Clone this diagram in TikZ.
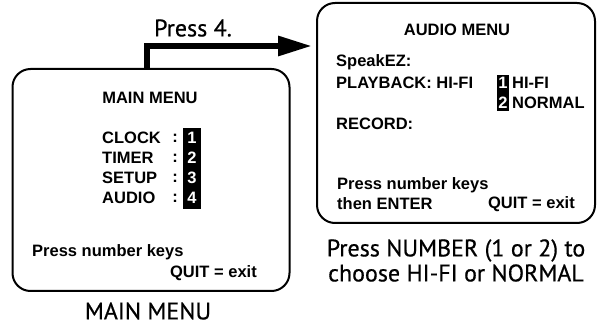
\documentclass[tikz,border=0pt]{standalone}
\usepackage{fontspec}
\setmainfont{Liberation Sans}
\newfontfamily\capfont{PT Sans}[FakeBold=0.6]
\usetikzlibrary{arrows.meta,positioning}
\tikzset{
  menubox/.style={draw, line width=2pt, rounded corners=18pt, inner sep=0pt},
  menutext/.style={font=\fontsize{16.5}{18}\selectfont\bfseries, inner sep=0pt},
  keytext/.style={menutext, text=white},
  keycol/.style={fill=black},
  captext/.style={font=\capfont\fontsize{24}{25}\selectfont, inner sep=0pt, align=center},
  bigarrow/.style={line width=6pt, -{Triangle[length=34pt,width=19pt]}}
}
\begin{document}
\begin{tikzpicture}[x=1pt,y=-1pt]
   \useasboundingbox (0,0) rectangle (597,328);

   % main menu screen
   \node[menubox, minimum width=277pt, minimum height=222pt] (mainbox) at (151,180) {};
   \node[menutext] (maintitle) at (150,98) {MAIN MENU};
   \fill[keycol] (183,128) rectangle (201,209);
   \foreach \name/\key [count=\i] in {CLOCK/1,TIMER/2,SETUP/3,AUDIO/4} {
      \node[menutext, anchor=west] (item\i) at (102,{118+\i*20}) {\name};
      \node[menutext] (colon\i) at (175,{118+\i*20}) {:};
      \node[keytext] (key\i) at (192,{118+\i*20}) {\key};
   }
   \node[menutext, anchor=west] (mainhint) at (32,252) {Press number keys};
   \node[menutext, anchor=east] (mainquit) at (257,273) {QUIT = exit};
   \node[captext] (maincap) at (148,311) {MAIN MENU};

   % audio menu screen
   \node[menubox, minimum width=278pt, minimum height=220pt] (audiobox) at (456,113) {};
   \node[menutext] (audiotitle) at (457,30) {AUDIO MENU};
   \node[menutext, anchor=west] (speak) at (336,62) {SpeakEZ:};
   \node[menutext, anchor=west] (playback) at (336,83) {PLAYBACK: HI-FI};
   \fill[keycol] (497,75) rectangle (509,111);
   \node[keytext] (hifikey) at (503,83) {1};
   \node[keytext] (normkey) at (503,103) {2};
   \node[menutext, anchor=west] (hifi) at (512,83) {HI-FI};
   \node[menutext, anchor=west] (normal) at (512,103) {NORMAL};
   \node[menutext, anchor=west] (record) at (336,124) {RECORD:};
   \node[menutext, anchor=west] (audiohint) at (337,185) {Press number keys};
   \node[menutext, anchor=west] (enter) at (337,204) {then ENTER};
   \node[menutext, anchor=east] (audioquit) at (575,204) {QUIT = exit};
   \node[captext] (audiocap) at (456,260.5) {Press NUMBER (1 or 2) to\\choose HI-FI or NORMAL};

   % press 4 arrow
   \node[captext] (press) at (193,28) {Press 4.};
   \draw[bigarrow] ([xshift=135pt]mainbox.north west) |- ([xshift=-4pt,yshift=-44pt]audiobox.north west);
\end{tikzpicture}
\end{document}
